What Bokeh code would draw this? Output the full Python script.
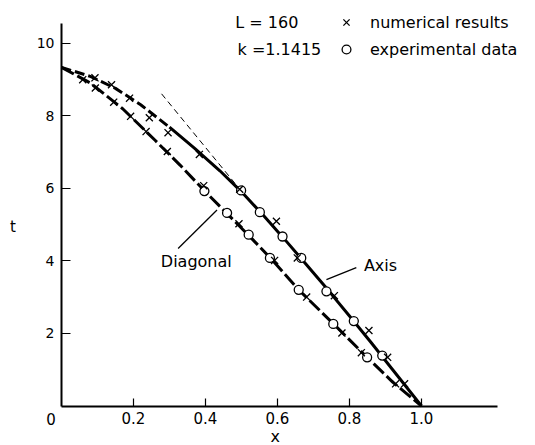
from bokeh.plotting import figure
from bokeh.models import Range1d, FixedTicker, Label, Legend, LegendItem
from bokeh.embed import file_html
from bokeh.resources import INLINE

# ---------------- data ----------------
x_ticks = [0.2, 0.4, 0.6, 0.8, 1.0]
x_tick_labels = ["0.2", "0.4", "0.6", "0.8", "1.0"]
y_ticks = [2, 4, 6, 8, 10]
y_tick_labels = ["2", "4", "6", "8", "10"]

# "Axis" curve (upper)
axis_curve_x = [0.0, 0.08, 0.15, 0.22, 0.30, 0.37, 0.44, 0.50, 0.56, 0.62, 0.68, 0.74, 0.80, 0.86, 0.92, 1.00]
axis_curve_t = [9.33, 9.08, 8.75, 8.30, 7.68, 7.10, 6.48, 5.90, 5.26, 4.59, 3.90, 3.20, 2.48, 1.75, 1.00, 0.0]
# "Diagonal" curve (lower)
diag_curve_x = [0.0, 0.08, 0.17, 0.26, 0.33, 0.40, 0.46, 0.52, 0.58, 0.66, 0.76, 0.85, 0.92, 1.0]
diag_curve_t = [9.33, 8.90, 8.19, 7.32, 6.63, 5.90, 5.30, 4.70, 4.08, 3.19, 2.22, 1.33, 0.66, 0.0]

# numerical results (x markers)
axis_num_x = [0.093, 0.139, 0.189, 0.244, 0.296, 0.383, 0.495, 0.597, 0.655, 0.758, 0.854, 0.906, 0.953]
axis_num_t = [9.04, 8.85, 8.48, 7.94, 7.53, 6.93, 5.97, 5.09, 4.08, 3.04, 2.08, 1.34, 0.61]
diag_num_x = [0.059, 0.094, 0.145, 0.192, 0.235, 0.294, 0.395, 0.493, 0.592, 0.681, 0.779, 0.833, 0.928]
diag_num_t = [8.99, 8.76, 8.37, 7.98, 7.56, 7.01, 6.07, 5.02, 4.01, 3.00, 2.01, 1.47, 0.61]

# experimental data (circles)
axis_exp_x = [0.499, 0.551, 0.614, 0.666, 0.736, 0.812, 0.891]
axis_exp_t = [5.94, 5.34, 4.67, 4.08, 3.16, 2.34, 1.39]
diag_exp_x = [0.397, 0.460, 0.520, 0.579, 0.659, 0.755, 0.849]
diag_exp_t = [5.92, 5.32, 4.72, 4.08, 3.20, 2.26, 1.34]

# thin dashed tangent line
tangent_x = [0.278, 0.483]
tangent_t = [8.60, 6.12]

# leader lines of the curve labels
diag_leader_x = [0.324, 0.432]
diag_leader_t = [4.34, 5.40]
axis_leader_x = [0.736, 0.819]
axis_leader_t = [3.48, 3.81]

FONT = "DejaVu Sans"

p = figure(frame_width=535, frame_height=445,
           x_range=Range1d(-0.1694, 1.3167), y_range=Range1d(-1.088, 11.171),
           output_backend="svg", toolbar_location=None,
           min_border=0, min_border_left=0, min_border_right=0,
           min_border_top=0, min_border_bottom=0)
p.xgrid.visible = False
p.ygrid.visible = False
p.outline_line_color = None
p.background_fill_color = "white"
p.border_fill_color = "white"

# x axis (drawn at t = 0, spanning 0 .. 1.21)
p.xaxis.fixed_location = 0
p.xaxis.bounds = (0, 1.21)
p.xaxis.ticker = FixedTicker(ticks=x_ticks)
p.xaxis.major_label_overrides = {t: l for t, l in zip(x_ticks, x_tick_labels)}
p.xaxis.major_tick_in = 8
p.xaxis.major_tick_out = 0
p.xaxis.minor_tick_line_color = None
p.xaxis.axis_line_width = 2
p.xaxis.axis_line_color = "black"
p.xaxis.major_tick_line_width = 1.2
p.xaxis.major_tick_line_color = "black"
p.xaxis.major_label_text_font = FONT
p.xaxis.major_label_text_font_size = "15px"
p.xaxis.major_label_text_color = "black"
p.xaxis.major_label_standoff = 6

# y axis (drawn at x = 0, spanning 0 .. 10.55)
p.yaxis.fixed_location = 0
p.yaxis.bounds = (0, 10.55)
p.yaxis.ticker = FixedTicker(ticks=y_ticks)
p.yaxis.major_label_overrides = {t: l for t, l in zip(y_ticks, y_tick_labels)}
p.yaxis.major_tick_in = 9
p.yaxis.major_tick_out = 0
p.yaxis.minor_tick_line_color = None
p.yaxis.axis_line_width = 2
p.yaxis.axis_line_color = "black"
p.yaxis.major_tick_line_width = 1.2
p.yaxis.major_tick_line_color = "black"
p.yaxis.major_label_text_font = FONT
p.yaxis.major_label_text_font_size = "14px"
p.yaxis.major_label_text_color = "black"
p.yaxis.major_label_standoff = 7

# curves
p.line(axis_curve_x[:5], axis_curve_t[:5], line_width=3, line_color="black", line_dash="10 4")
p.line(axis_curve_x[4:], axis_curve_t[4:], line_width=3, line_color="black")
p.line(diag_curve_x, diag_curve_t, line_width=3, line_color="black", line_dash="14 4")
p.line(tangent_x, tangent_t, line_width=1, line_color="black", line_dash="6 4")
p.line(diag_leader_x, diag_leader_t, line_width=1.3, line_color="black")
p.line(axis_leader_x, axis_leader_t, line_width=1.3, line_color="black")

# markers
r_exp = p.scatter(axis_exp_x, axis_exp_t, marker="circle", size=9,
                  fill_color="white", line_color="black", line_width=1.3)
p.scatter(diag_exp_x, diag_exp_t, marker="circle", size=9,
          fill_color="white", line_color="black", line_width=1.3)
r_num = p.scatter(axis_num_x, axis_num_t, marker="x", size=10,
                  line_color="black", line_width=1.3)
p.scatter(diag_num_x, diag_num_t, marker="x", size=10,
          line_color="black", line_width=1.3)

# legend
legend = Legend(items=[LegendItem(label="numerical results", renderers=[r_num]),
                       LegendItem(label="experimental data", renderers=[r_exp])],
                location=(335, 385), padding=0, margin=0, spacing=5,
                glyph_width=22, glyph_height=22, label_height=20,
                label_standoff=13, border_line_color=None,
                background_fill_alpha=0,
                label_text_font=FONT, label_text_font_size="16px",
                label_text_color="black")
p.add_layout(legend)

# texts
def lab(x, y, text, size="16px", align="left"):
    p.add_layout(Label(x=x, y=y, text=text, text_font=FONT, text_font_size=size,
                       text_color="black", text_align=align, text_baseline="middle"))

lab(0.483, 10.56, "L = 160")
lab(0.489, 9.82, "k =1.1415")
lab(0.276, 3.98, "Diagonal")
lab(0.840, 3.87, "Axis")
lab(-0.029, -0.37, "0", size="15px", align="center")
lab(-0.135, 4.94, "t", size="15px", align="center")
lab(0.594, -0.84, "x", size="16px", align="center")

open("out.html", "w").write(file_html(p, INLINE))
